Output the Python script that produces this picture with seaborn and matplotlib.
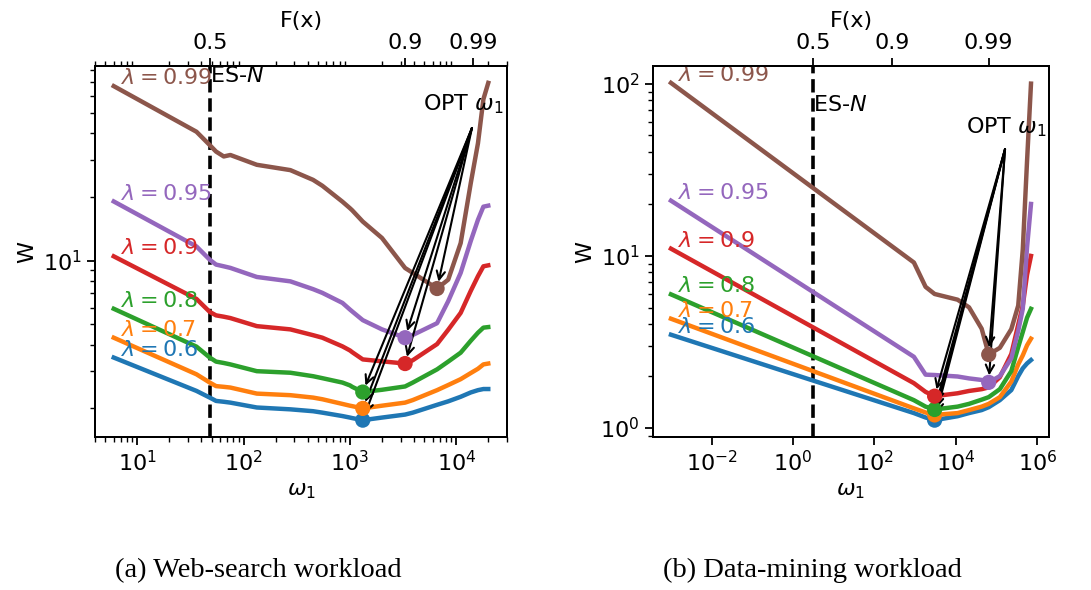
import numpy as np
import pandas as pd
import matplotlib
matplotlib.use("Agg")
import matplotlib.pyplot as plt
import seaborn as sns
from matplotlib.ticker import NullLocator

plt.rcParams.update({
    "font.size": 16,
    "font.family": ["DejaVu Sans"],
    "axes.linewidth": 1.4,
    "xtick.major.size": 6, "ytick.major.size": 6,
    "xtick.minor.size": 3.5, "ytick.minor.size": 3.5,
    "xtick.major.width": 1.3, "ytick.major.width": 1.3,
    "xtick.minor.width": 1.0, "ytick.minor.width": 1.0,
})

lambdas = ["0.6", "0.7", "0.8", "0.9", "0.95", "0.99"]
colors = ["#1f77b4", "#ff7f0e", "#2ca02c", "#d62728", "#9467bd", "#8c564b"]
F_labels = ["0.5", "0.9", "0.99"]

# ---------------- (a) Web-search workload ----------------
ws_w1 = [6, 36, 48, 55, 65, 75, 133, 275, 450, 550, 850, 1000, 1050, 1320,
         2000, 3300, 3900, 6600, 8400, 11000, 13700, 16000, 18000, 20000]
ws_W_060 = [3.48, 2.42, 2.25, 2.17, 2.15, 2.13, 2.02, 1.98, 1.94, 1.91, 1.84, 1.81,
            1.80, 1.76, 1.81, 1.87, 1.91, 2.08, 2.16, 2.27, 2.38, 2.44, 2.47, 2.47]
ws_W_070 = [4.32, 2.90, 2.65, 2.55, 2.53, 2.51, 2.35, 2.31, 2.25, 2.21, 2.10, 2.06,
            2.05, 2.00, 2.06, 2.13, 2.19, 2.44, 2.58, 2.75, 2.94, 3.08, 3.23, 3.26]
ws_W_080 = [5.92, 3.92, 3.48, 3.33, 3.28, 3.23, 3.00, 2.95, 2.84, 2.78, 2.65, 2.57,
            2.53, 2.39, 2.45, 2.54, 2.65, 3.06, 3.33, 3.67, 4.18, 4.56, 4.82, 4.85]
ws_W_090 = [10.48, 6.59, 5.72, 5.51, 5.43, 5.35, 4.90, 4.73, 4.44, 4.32, 3.93, 3.76,
            3.69, 3.41, 3.34, 3.26, 3.38, 4.03, 4.71, 5.66, 7.20, 8.44, 9.40, 9.50]
ws_W_095 = [19.05, 11.67, 10.1, 9.58, 9.40, 9.24, 8.37, 7.98, 7.33, 7.04, 6.31, 5.87,
            5.75, 5.23, 4.73, 4.32, 4.45, 5.06, 6.43, 8.75, 12.4, 15.6, 18.0, 18.2]
ws_W_099 = [66.9, 40.7, 35.2, 32.8, 31.1, 31.6, 28.4, 26.8, 24.1, 22.6, 19.0, 17.7,
            17.3, 15.3, 12.8, 9.23, 8.75, 7.38, 8.13, 12.1, 23.3, 35.9, 58.0, 69.3]
ws_opt_idx = [13, 13, 13, 15, 15, 17]
ws_es_n = 48
ws_F_pos = [48, 3300, 14500]

# ---------------- (b) Data-mining workload ----------------
dm_w1 = [1e-3, 930, 1800, 3000, 11000, 21000, 43000, 64000, 120000, 230000,
         340000, 440000, 560000, 700000]
dm_W_060 = [3.48, 1.22, 1.15, 1.11, 1.17, 1.22, 1.27, 1.32, 1.45, 1.66, 2.00, 2.22, 2.37, 2.48]
dm_W_070 = [4.31, 1.30, 1.23, 1.19, 1.22, 1.27, 1.33, 1.38, 1.51, 1.86, 2.34, 2.64, 3.02, 3.30]
dm_W_080 = [5.97, 1.45, 1.33, 1.28, 1.33, 1.38, 1.46, 1.51, 1.68, 2.14, 2.95, 3.61, 4.37, 4.92]
dm_W_090 = [11.0, 1.82, 1.62, 1.53, 1.59, 1.64, 1.68, 1.72, 1.97, 2.69, 3.98, 5.14, 7.76, 9.98]
dm_W_095 = [20.9, 2.59, 2.04, 2.03, 1.99, 1.94, 1.90, 1.84, 2.00, 2.54, 3.66, 4.92, 11.2, 20.0]
dm_W_099 = [101.0, 9.14, 6.6, 6.0, 5.56, 5.02, 3.77, 2.67, 2.92, 3.75, 5.14, 10.9, 35.5, 100.0]
dm_opt_idx = [3, 3, 3, 3, 7, 7]
dm_es_n = 3.1
dm_F_pos = [3.1, 266, 64000]


def draw(ax, w1, series, opt_idx, es_n, f_pos, text_xy, arrow_xy, no_minor_x):
    rows = []
    for lam, vals in zip(lambdas, series):
        for x, y in zip(w1, vals):
            rows.append((x, y, lam))
    df = pd.DataFrame(rows, columns=["w1", "W", "lam"])
    ax.set_xscale("log")
    ax.set_yscale("log")
    sns.lineplot(data=df, x="w1", y="W", hue="lam", hue_order=lambdas,
                 palette=colors, lw=3.2, legend=False, ax=ax,
                 estimator=None, sort=False)
    opt = pd.DataFrame({
        "w1": [w1[i] for i in opt_idx],
        "W": [s[i] for s, i in zip(series, opt_idx)],
        "lam": lambdas,
    })
    sns.scatterplot(data=opt, x="w1", y="W", hue="lam", hue_order=lambdas,
                    palette=colors, s=120, linewidth=0, legend=False, ax=ax,
                    zorder=4)
    ax.axvline(es_n, color="k", ls="--", lw=2.6, zorder=1)
    for lam, vals, c in zip(lambdas, series, colors):
        ax.annotate(r"$\lambda=%s$" % lam, xy=(w1[0], vals[0]),
                    xytext=(5, -1.5), textcoords="offset points",
                    color=c, ha="left", va="bottom")
    ax.text(es_n, 75, "ES-$N$", ha="left", va="center")
    ax.text(text_xy[0], text_xy[1], r"OPT $\omega_1$", transform=ax.transAxes,
            ha="center", va="center")
    for ox, oy in zip(opt["w1"], opt["W"]):
        ax.annotate("", xy=(ox, oy), xytext=arrow_xy,
                    textcoords="axes fraction",
                    arrowprops=dict(arrowstyle="->", color="k", lw=1.5,
                                    shrinkA=0, shrinkB=5, mutation_scale=15))
    ax.set_xlabel(r"$\omega_1$")
    ax.set_ylabel("W")
    top = ax.twiny()
    top.set_xscale("log")
    top.set_xlim(ax.get_xlim())
    top.set_xticks(f_pos)
    top.set_xticklabels(F_labels)
    top.set_xlabel("F(x)")
    if no_minor_x:
        ax.xaxis.set_minor_locator(NullLocator())
        top.xaxis.set_minor_locator(NullLocator())
    return top


fig = plt.figure(figsize=(10.91, 5.90), dpi=100)
ax1 = fig.add_axes([0.0871, 0.2593, 0.3776, 0.6288])
ax2 = fig.add_axes([0.5985, 0.2593, 0.3630, 0.6288])

draw(ax1, ws_w1, [ws_W_060, ws_W_070, ws_W_080, ws_W_090, ws_W_095, ws_W_099],
     ws_opt_idx, ws_es_n, ws_F_pos, (0.893, 0.898), (0.915, 0.833), False)
draw(ax2, dm_w1, [dm_W_060, dm_W_070, dm_W_080, dm_W_090, dm_W_095, dm_W_099],
     dm_opt_idx, dm_es_n, dm_F_pos, (0.891, 0.834), (0.889, 0.776), True)

fig.text(0.237, 0.033, "(a) Web-search workload", ha="center", va="center",
         family="Liberation Serif", fontsize=20.5)
fig.text(0.745, 0.033, "(b) Data-mining workload", ha="center", va="center",
         family="Liberation Serif", fontsize=20.5)

fig.savefig("out.png", dpi=100)
